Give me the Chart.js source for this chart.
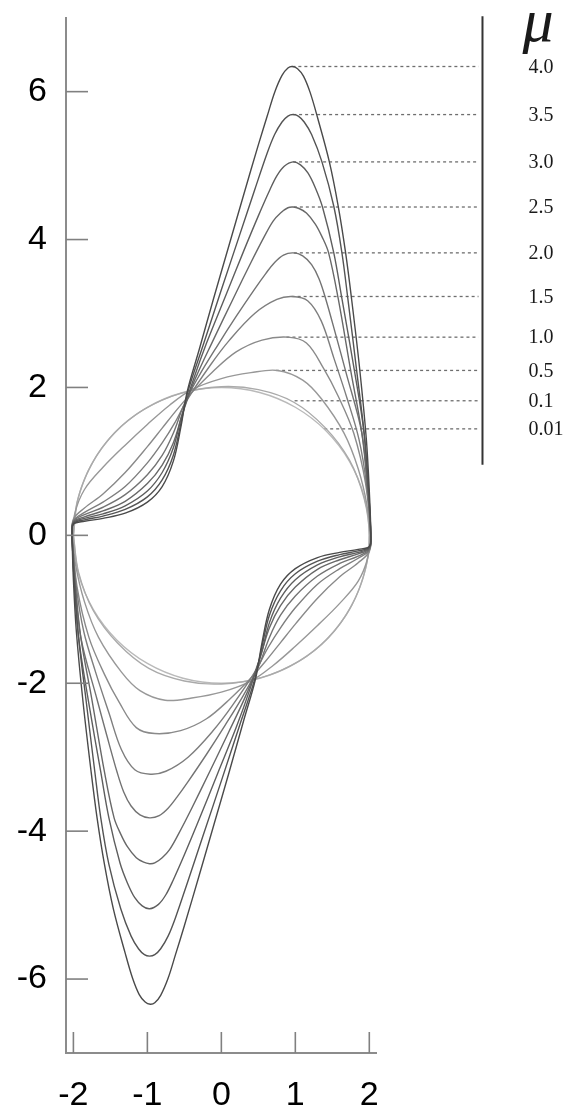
<!DOCTYPE html>
<html>
<head>
<meta charset="utf-8">
<script src="https://cdn.jsdelivr.net/npm/chart.js@4.4.1/dist/chart.umd.min.js"></script>
<style>
  html, body { margin: 0; padding: 0; background: #fff; }
  #wrap { width: 570px; height: 1116px; }
</style>
</head>
<body>
<div id="wrap"><canvas id="vdp" width="570" height="1116"></canvas></div>
<script>
// values of mu in the key on the right, top to bottom
const muLabels = ['4.0', '3.5', '3.0', '2.5', '2.0', '1.5', '1.0', '0.5', '0.1', '0.01'];
// where each dashed leader sits (height) and where it leaves its curve (x)
const leaderY = [6.34, 5.69, 5.05, 4.44, 3.82, 3.23, 2.68, 2.23, 1.82, 1.44];
const leaderX = [0.96, 0.97, 0.97, 0.98, 0.98, 0.95, 0.88, 0.74, 0.99, 1.39];

const xTicks = [-2, -1, 0, 1, 2];
const yTicks = [-6, -4, -2, 0, 2, 4, 6];

// limit cycles as [x, dx/dt]
// upper half left -> right, then lower half right -> left
const cycle40 = [
  [-2.02,0],[-2.0,0.15],[-1.85,0.19],[-1.6,0.23],[-1.3,0.3],[-1.0,0.45],[-0.8,0.66],[-0.65,1.0],[-0.55,1.45],[-0.46,1.95],[-0.3,2.51],[-0.1,3.22],[0.1,3.91],[0.3,4.6],[0.5,5.28],[0.62,5.67],[0.72,5.99],[0.82,6.22],[0.9,6.32],[0.96,6.34],[1.03,6.31],[1.11,6.21],[1.2,5.99],[1.3,5.65],[1.46,5.05],[1.58,4.45],[1.68,3.82],[1.76,3.2],[1.87,2.25],[1.96,1.3],[2.0,0.6],[2.02,0],
  [2.0,-0.15],[1.85,-0.19],[1.6,-0.23],[1.3,-0.3],[1.0,-0.45],[0.8,-0.66],[0.65,-1.0],[0.55,-1.45],[0.46,-1.95],[0.3,-2.51],[0.1,-3.22],[-0.1,-3.91],[-0.3,-4.6],[-0.5,-5.28],[-0.62,-5.67],[-0.72,-5.99],[-0.82,-6.22],[-0.9,-6.32],[-0.96,-6.34],[-1.03,-6.31],[-1.11,-6.21],[-1.2,-5.99],[-1.3,-5.65],[-1.46,-5.05],[-1.58,-4.45],[-1.68,-3.82],[-1.76,-3.2],[-1.87,-2.25],[-1.96,-1.3],[-2.0,-0.6],[-2.02,0]
];
const cycle35 = [
  [-2.02,0],[-2.0,0.16],[-1.85,0.21],[-1.6,0.26],[-1.3,0.35],[-1.0,0.52],[-0.8,0.75],[-0.65,1.08],[-0.55,1.5],[-0.45,1.95],[-0.25,2.56],[0,3.32],[0.25,4.07],[0.45,4.67],[0.62,5.17],[0.72,5.42],[0.82,5.59],[0.9,5.67],[0.97,5.69],[1.04,5.67],[1.12,5.59],[1.22,5.42],[1.36,5.05],[1.52,4.45],[1.63,3.82],[1.71,3.2],[1.83,2.22],[1.93,1.38],[1.99,0.6],[2.02,0],
  [2.0,-0.16],[1.85,-0.21],[1.6,-0.26],[1.3,-0.35],[1.0,-0.52],[0.8,-0.75],[0.65,-1.08],[0.55,-1.5],[0.45,-1.95],[0.25,-2.56],[0,-3.32],[-0.25,-4.07],[-0.45,-4.67],[-0.62,-5.17],[-0.72,-5.42],[-0.82,-5.59],[-0.9,-5.67],[-0.97,-5.69],[-1.04,-5.67],[-1.12,-5.59],[-1.22,-5.42],[-1.36,-5.05],[-1.52,-4.45],[-1.63,-3.82],[-1.71,-3.2],[-1.83,-2.22],[-1.93,-1.38],[-1.99,-0.6],[-2.02,0]
];
const cycle30 = [
  [-2.02,0],[-2.0,0.17],[-1.85,0.23],[-1.6,0.29],[-1.3,0.4],[-1.0,0.6],[-0.8,0.85],[-0.65,1.18],[-0.54,1.6],[-0.38,2.1],[-0.2,2.6],[0.05,3.22],[0.3,3.84],[0.5,4.32],[0.65,4.66],[0.75,4.86],[0.85,4.99],[0.97,5.05],[1.07,5.01],[1.17,4.9],[1.27,4.7],[1.37,4.43],[1.52,3.82],[1.63,3.2],[1.8,2.22],[1.93,1.38],[1.99,0.6],[2.02,0],
  [2.0,-0.17],[1.85,-0.23],[1.6,-0.29],[1.3,-0.4],[1.0,-0.6],[0.8,-0.85],[0.65,-1.18],[0.54,-1.6],[0.38,-2.1],[0.2,-2.6],[-0.05,-3.22],[-0.3,-3.84],[-0.5,-4.32],[-0.65,-4.66],[-0.75,-4.86],[-0.85,-4.99],[-0.97,-5.05],[-1.07,-5.01],[-1.17,-4.9],[-1.27,-4.7],[-1.37,-4.43],[-1.52,-3.82],[-1.63,-3.2],[-1.8,-2.22],[-1.93,-1.38],[-1.99,-0.6],[-2.02,0]
];
const cycle25 = [
  [-2.02,0],[-2.0,0.18],[-1.85,0.25],[-1.6,0.33],[-1.3,0.46],[-1.0,0.7],[-0.8,0.95],[-0.65,1.25],[-0.52,1.66],[-0.36,2.1],[-0.1,2.66],[0.15,3.18],[0.4,3.69],[0.58,4.04],[0.7,4.25],[0.8,4.36],[0.9,4.43],[0.97,4.44],[1.05,4.42],[1.15,4.36],[1.27,4.21],[1.36,4.04],[1.45,3.82],[1.58,3.2],[1.75,2.22],[1.9,1.38],[1.98,0.6],[2.02,0],
  [2.0,-0.18],[1.85,-0.25],[1.6,-0.33],[1.3,-0.46],[1.0,-0.7],[0.8,-0.95],[0.65,-1.25],[0.52,-1.66],[0.36,-2.1],[0.1,-2.66],[-0.15,-3.18],[-0.4,-3.69],[-0.58,-4.04],[-0.7,-4.25],[-0.8,-4.36],[-0.9,-4.43],[-0.97,-4.44],[-1.05,-4.42],[-1.15,-4.36],[-1.27,-4.21],[-1.36,-4.04],[-1.45,-3.82],[-1.58,-3.2],[-1.75,-2.22],[-1.9,-1.38],[-1.98,-0.6],[-2.02,0]
];
const cycle20 = [
  [-2.02,0],[-2.0,0.19],[-1.85,0.28],[-1.6,0.38],[-1.3,0.55],[-1.0,0.82],[-0.8,1.08],[-0.65,1.38],[-0.5,1.78],[-0.3,2.16],[-0.05,2.57],[0.2,2.96],[0.45,3.33],[0.6,3.54],[0.72,3.69],[0.84,3.79],[0.97,3.82],[1.1,3.78],[1.22,3.66],[1.32,3.47],[1.41,3.2],[1.55,2.7],[1.68,2.22],[1.9,1.38],[1.98,0.6],[2.02,0],
  [2.0,-0.19],[1.85,-0.28],[1.6,-0.38],[1.3,-0.55],[1.0,-0.82],[0.8,-1.08],[0.65,-1.38],[0.5,-1.78],[0.3,-2.16],[0.05,-2.57],[-0.2,-2.96],[-0.45,-3.33],[-0.6,-3.54],[-0.72,-3.69],[-0.84,-3.79],[-0.97,-3.82],[-1.1,-3.78],[-1.22,-3.66],[-1.32,-3.47],[-1.41,-3.2],[-1.55,-2.7],[-1.68,-2.22],[-1.9,-1.38],[-1.98,-0.6],[-2.02,0]
];
const cycle15 = [
  [-2.02,0],[-2.0,0.2],[-1.85,0.31],[-1.6,0.45],[-1.3,0.66],[-1.0,0.98],[-0.8,1.25],[-0.63,1.52],[-0.47,1.82],[-0.15,2.3],[0.11,2.64],[0.45,3.0],[0.75,3.19],[0.96,3.23],[1.17,3.17],[1.35,2.9],[1.52,2.4],[1.7,1.85],[1.86,1.3],[1.96,0.7],[2.02,0],
  [2.0,-0.2],[1.85,-0.31],[1.6,-0.45],[1.3,-0.66],[1.0,-0.98],[0.8,-1.25],[0.63,-1.52],[0.47,-1.82],[0.15,-2.3],[-0.11,-2.64],[-0.45,-3.0],[-0.75,-3.19],[-0.96,-3.23],[-1.17,-3.17],[-1.35,-2.9],[-1.52,-2.4],[-1.7,-1.85],[-1.86,-1.3],[-1.96,-0.7],[-2.02,0]
];
const cycle10 = [
  [-2.02,0],[-2.0,0.22],[-1.85,0.37],[-1.6,0.56],[-1.3,0.85],[-1.0,1.2],[-0.8,1.45],[-0.6,1.7],[-0.4,1.93],[-0.13,2.2],[0.2,2.48],[0.55,2.64],[0.9,2.68],[1.15,2.6],[1.38,2.26],[1.58,1.88],[1.79,1.38],[1.95,0.7],[2.02,0],
  [2.0,-0.22],[1.85,-0.37],[1.6,-0.56],[1.3,-0.85],[1.0,-1.2],[0.8,-1.45],[0.6,-1.7],[0.4,-1.93],[0.13,-2.2],[-0.2,-2.48],[-0.55,-2.64],[-0.9,-2.68],[-1.15,-2.6],[-1.38,-2.26],[-1.58,-1.88],[-1.79,-1.38],[-1.95,-0.7],[-2.02,0]
];
const cycle05 = [
  [-2.01,0],[-1.98,0.3],[-1.85,0.62],[-1.6,0.92],[-1.3,1.22],[-1.0,1.5],[-0.7,1.76],[-0.4,1.97],[0,2.12],[0.4,2.2],[0.76,2.23],[1.1,2.1],[1.35,1.85],[1.66,1.38],[1.85,0.9],[1.97,0.4],[2.01,0],
  [1.98,-0.3],[1.85,-0.62],[1.6,-0.92],[1.3,-1.22],[1.0,-1.5],[0.7,-1.76],[0.4,-1.97],[0,-2.12],[-0.4,-2.2],[-0.76,-2.23],[-1.1,-2.1],[-1.35,-1.85],[-1.66,-1.38],[-1.85,-0.9],[-1.97,-0.4],[-2.01,0]
];
const cycle01 = [
  [-2.0,0],[-1.95,0.45],[-1.76,0.95],[-1.45,1.38],[-1.05,1.7],[-0.55,1.92],[0,2.01],[0.5,1.97],[0.98,1.8],[1.4,1.46],[1.73,1.02],[1.93,0.5],[2.0,0],
  [1.95,-0.45],[1.76,-0.95],[1.45,-1.38],[1.05,-1.7],[0.55,-1.92],[0,-2.01],[-0.5,-1.97],[-0.98,-1.8],[-1.4,-1.46],[-1.73,-1.02],[-1.93,-0.5],[-2.0,0]
];
const cycle001 = [
  [-2,0],[-1.932,0.518],[-1.732,1],[-1.414,1.414],[-1,1.732],[-0.518,1.932],[0,2],[0.518,1.932],[1,1.732],[1.414,1.414],[1.732,1],[1.932,0.518],[2,0],
  [1.932,-0.518],[1.732,-1],[1.414,-1.414],[1,-1.732],[0.518,-1.932],[0,-2],[-0.518,-1.932],[-1,-1.732],[-1.414,-1.414],[-1.732,-1],[-1.932,-0.518],[-2,0]
];

const cycles = [cycle40, cycle35, cycle30, cycle25, cycle20, cycle15, cycle10, cycle05, cycle01, cycle001];
// darker grey for larger mu
const greys = ['#4a4a4a', '#545454', '#5e5e5e', '#686868', '#737373', '#7e7e7e', '#8a8a8a', '#989898', '#aaaaaa', '#bababa'];

const keyBarX = 3.53;     // the black bar of the key, in x units
const leaderEnd = 3.476;  // dashed leaders stop just left of it

const datasets = [];
cycles.forEach(function (c, i) {
  datasets.push({
    label: 'mu = ' + muLabels[i],
    data: c.map(p => ({ x: p[0], y: p[1] })),
    showLine: true,
    borderColor: greys[i],
    borderWidth: 1.4,
    pointRadius: 0,
    tension: 0.35,
    fill: false
  });
});
// dashed leaders from each curve to the key
leaderY.forEach(function (v, i) {
  datasets.push({
    data: [{ x: leaderX[i], y: v }, { x: leaderEnd, y: v }],
    showLine: true,
    borderColor: '#6e6e6e',
    borderWidth: 1.3,
    borderDash: [3, 3],
    pointRadius: 0,
    tension: 0,
    clip: false
  });
});
// vertical bar of the key
datasets.push({
  data: [{ x: keyBarX, y: 7.02 }, { x: keyBarX, y: 0.955 }],
  showLine: true,
  borderColor: '#333',
  borderWidth: 2,
  pointRadius: 0,
  tension: 0,
  clip: false
});

// tick marks drawn inward, plus key text
const extras = {
  id: 'extras',
  afterDraw(chart) {
    const ctx = chart.ctx;
    const area = chart.chartArea;
    const xs = chart.scales.x, ys = chart.scales.y;
    ctx.save();
    ctx.strokeStyle = '#808080';
    ctx.lineWidth = 1.6;
    xTicks.forEach(function (v) {
      const px = xs.getPixelForValue(v);
      ctx.beginPath();
      ctx.moveTo(px, area.bottom);
      ctx.lineTo(px, area.bottom - 21);
      ctx.stroke();
    });
    yTicks.forEach(function (v) {
      const py = ys.getPixelForValue(v);
      ctx.beginPath();
      ctx.moveTo(area.left, py);
      ctx.lineTo(area.left + 22, py);
      ctx.stroke();
    });

    const barPx = xs.getPixelForValue(keyBarX);
    ctx.fillStyle = '#1a1a1a';
    ctx.textAlign = 'left';
    ctx.textBaseline = 'middle';
    ctx.font = '20px "Liberation Serif", "Times New Roman", serif';
    muLabels.forEach(function (t, i) {
      ctx.fillText(t, barPx + 46, ys.getPixelForValue(leaderY[i]) + 1);
    });
    ctx.font = 'italic 62px "Liberation Serif", "Times New Roman", serif';
    ctx.textBaseline = 'alphabetic';
    ctx.fillText('\u03BC', barPx + 40, 41);
    ctx.restore();
  }
};

const tickFont = { family: '"Liberation Sans", Arial, sans-serif', size: 34 };

new Chart(document.getElementById('vdp').getContext('2d'), {
  type: 'scatter',
  data: { datasets: datasets },
  options: {
    responsive: false,
    animation: false,
    devicePixelRatio: 1,
    events: [],
    layout: { padding: { top: 17.7, right: 193.3, bottom: 0, left: 0 } },
    plugins: { legend: { display: false }, tooltip: { enabled: false } },
    scales: {
      x: {
        type: 'linear',
        min: -2.1,
        max: 2.1,
        afterBuildTicks: s => { s.ticks = xTicks.map(v => ({ value: v })); },
        afterFit: s => { s.height = 63; s.paddingLeft = 0; s.paddingRight = 0; },
        grid: { display: true, drawOnChartArea: false, drawTicks: false },
        border: { display: true, color: '#8c8c8c', width: 2 },
        ticks: { color: '#000', font: tickFont, padding: 22, maxRotation: 0, autoSkip: false,
                 callback: v => String(v) }
      },
      y: {
        type: 'linear',
        min: -7,
        max: 7,
        afterBuildTicks: s => { s.ticks = yTicks.map(v => ({ value: v })); },
        afterFit: s => { s.width = 66; s.paddingTop = 0; s.paddingBottom = 0; },
        grid: { display: true, drawOnChartArea: false, drawTicks: false },
        border: { display: true, color: '#8c8c8c', width: 2 },
        ticks: { color: '#000', font: tickFont, padding: 19, autoSkip: false,
                 callback: v => String(v) }
      }
    }
  },
  plugins: [extras]
});
</script>
</body>
</html>
